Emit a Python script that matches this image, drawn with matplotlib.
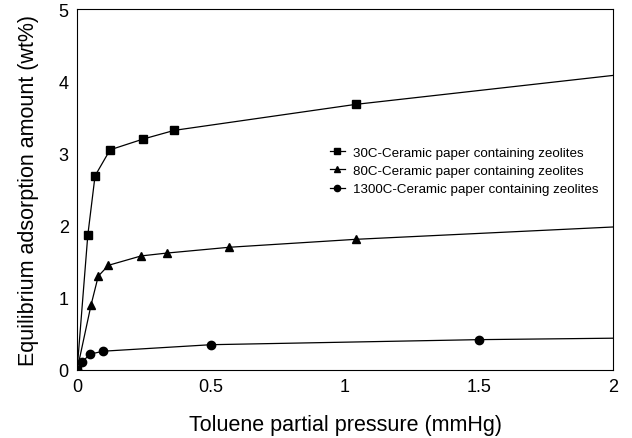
import matplotlib
matplotlib.use("Agg")
import matplotlib.pyplot as plt

plt.rcParams['font.family'] = ['Liberation Sans', 'DejaVu Sans']

# pressure (mmHg) and adsorbed amount (wt%) per series
# last point of each lies beyond the axis, the line runs out of the frame
x_30 = [0, 0.04, 0.067, 0.123, 0.247, 0.363, 1.04, 2.5]
y_30 = [0, 1.87, 2.69, 3.05, 3.20, 3.32, 3.68, 4.29]

x_80 = [0, 0.052, 0.079, 0.117, 0.239, 0.336, 0.568, 1.04, 2.5]
y_80 = [0, 0.90, 1.30, 1.45, 1.58, 1.62, 1.70, 1.81, 2.07]

x_1300 = [0, 0.018, 0.049, 0.098, 0.50, 1.50, 2.5]
y_1300 = [0, 0.11, 0.22, 0.26, 0.35, 0.42, 0.46]

labels = ['30C-Ceramic paper containing zeolites',
          '80C-Ceramic paper containing zeolites',
          '1300C-Ceramic paper containing zeolites']

fig = plt.figure(figsize=(6.32, 4.39), dpi=100)
ax = fig.add_axes([0.122, 0.155, 0.848, 0.822])

ax.plot(x_30[:-1], y_30[:-1], 's', color='black', markersize=6)
ax.plot(x_80[:-1], y_80[:-1], '^', color='black', markersize=6)
ax.plot(x_1300[:-1], y_1300[:-1], 'o', color='black', markersize=6)
ax.plot(x_30, y_30, '-', color='black', lw=0.9)
ax.plot(x_80, y_80, '-', color='black', lw=0.9)
ax.plot(x_1300, y_1300, '-', color='black', lw=0.9)

# legend handles: line with marker
h1, = ax.plot([], [], '-s', color='black', lw=0.9, markersize=4.5)
h2, = ax.plot([], [], '-^', color='black', lw=0.9, markersize=4.5)
h3, = ax.plot([], [], '-o', color='black', lw=0.9, markersize=4.5)
ax.legend([h1, h2, h3], labels, loc='upper left', bbox_to_anchor=(0.472, 0.62),
          frameon=False, fontsize=9.6, handlelength=1.1, handletextpad=0.6,
          labelspacing=0.45, borderaxespad=0, borderpad=0)

ax.set_xlim(0, 2)
ax.set_ylim(0, 5)
ax.set_xticks([0, 0.5, 1, 1.5, 2])
ax.set_xticklabels(['0', '0.5', '1', '1.5', '2'])
ax.set_yticks([0, 1, 2, 3, 4, 5])
ax.tick_params(length=0, labelsize=13, pad=6)
for s in ax.spines.values():
    s.set_linewidth(0.8)

ax.set_xlabel('Toluene partial pressure (mmHg)', fontsize=15.5)
ax.set_ylabel('Equilibrium adsorption amount (wt%)', fontsize=15.5)
ax.xaxis.set_label_coords(0.5, -0.122)
ax.yaxis.set_label_coords(-0.071, 0.5)

fig.savefig('out.png', dpi=100)
